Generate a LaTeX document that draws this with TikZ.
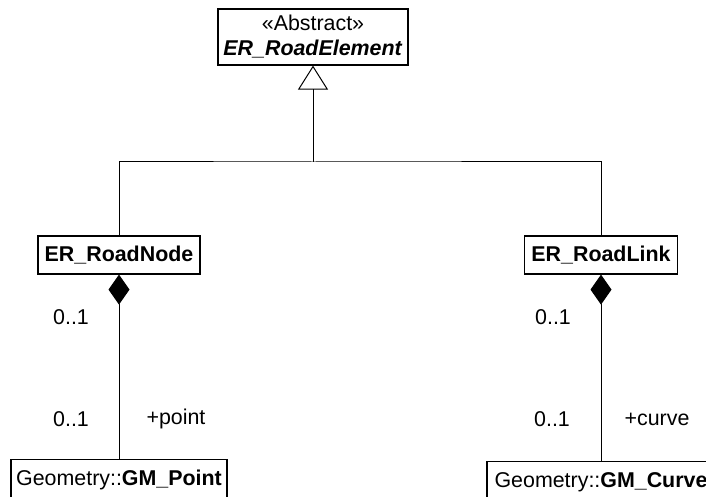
\documentclass[tikz,border=0pt]{standalone}
\usepackage{fontspec}
\setmainfont{Liberation Sans}
\usetikzlibrary{arrows.meta}
\tikzset{
umlclass/.style={draw=black, line width=0.6pt, fill=white, inner sep=0pt, font=\fontsize{10.7}{12.5}\selectfont},
mult/.style={font=\fontsize{10.7}{12.5}\selectfont, inner sep=0pt},
gen/.style={line width=0.5pt, -{Triangle[open,length=12pt,width=15pt]}},
comp/.style={line width=0.5pt, {Diamond[length=15pt,width=10.5pt]}-}
      }

\begin{document}
\begin{tikzpicture}[x=0.5pt, y=-0.5pt]
                \useasboundingbox[fill=white] (0,0) rectangle (706,497);
                \clip (0,0) rectangle (706,497);
                \node[umlclass, minimum width=95pt, minimum height=28pt, align=center] (elem) at (313,37) {«Abstract»\\ \textbf{\textit{ER\_RoadElement}}};
                \node[umlclass, minimum width=81pt, minimum height=19pt] (rnode) at (119,255) {\textbf{ER\_RoadNode}};
                \node[umlclass, minimum width=76.5pt, minimum height=19pt] (rlink) at (601,255) {\textbf{ER\_RoadLink}};
                \node[umlclass, anchor=north, minimum width=108pt, text height=12.75pt, text depth=15pt] (gmpoint) at (119,459) {Geometry::\textbf{GM\_Point}};
                \node[umlclass, anchor=north, minimum width=114pt, text height=12.75pt, text depth=15pt] (gmcurve) at (601,461) {Geometry::\textbf{GM\_Curve}};
                \coordinate (join) at (313,162);
                \draw[gen] (join) -- (elem.south);
                \draw[line width=0.5pt] (rnode.north) |- (join) -| (rlink.north);
                \draw[comp] (rnode.south) -- (gmpoint.north);
                \draw[comp] (rlink.south) -- (gmcurve.north);
                \node[mult] (pointsrc) at (71,317) {0..1};
                \node[mult] (pointdst) at (71,419) {0..1};
                \node[mult] (pointrole) at (176,419) {+point};
                \node[mult] (curvesrc) at (553,317) {0..1};
                \node[mult] (curvedst) at (552,419) {0..1};
                \node[mult] (curverole) at (657,419) {+curve};
            \end{tikzpicture}
\end{document}
